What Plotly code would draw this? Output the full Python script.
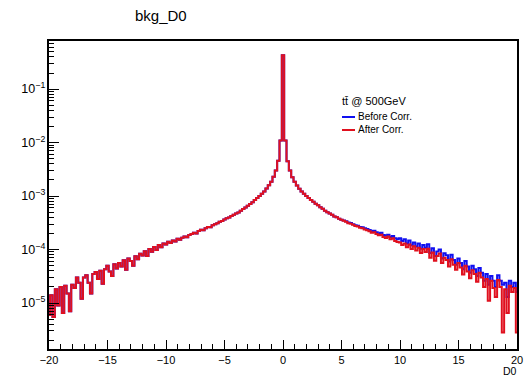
import numpy as np
import plotly.graph_objects as go

# Histogram: 201 bins of width 0.2 centred on -20.0 ... 20.0
bin_centers = np.round(np.arange(-100, 101) * 0.2, 1)

# "After Corr." bin contents
after_corr = [
    6e-6, 1.4e-5, 5.5e-6, 1.8e-5, 9e-6,
    2.0e-5, 6.5e-6, 2.1e-5, 1.5e-5, 7e-6,
    2.2e-5, 1.9e-5, 3.0e-5, 2.4e-5, 1.2e-5,
    3.0e-5, 3.3e-5, 2.4e-5, 1.5e-5, 3.5e-5,
    3.8e-5, 2.8e-5, 4.0e-5, 2.3e-5, 4.3e-5,
    5.0e-5, 3.9e-5, 3.2e-5, 5.3e-5, 4.4e-5,
    5.6e-5, 4.8e-5, 6.3e-5, 4.2e-5, 6.8e-5,
    6.1e-5, 5.0e-5, 7.5e-5, 6.6e-5, 8.3e-5,
    7.7e-5, 9.3e-5, 7.6e-5, 1.02e-4, 9.1e-5,
    1.12e-4, 9.8e-5, 1.22e-4, 1.1e-4, 1.3e-4,
    1.24e-4, 1.4e-4, 1.32e-4, 1.48e-4, 1.41e-4,
    1.6e-4, 1.52e-4, 1.67e-4, 1.75e-4, 1.7e-4,
    1.88e-4, 1.95e-4, 2.07e-4, 2.0e-4, 2.22e-4,
    2.35e-4, 2.3e-4, 2.5e-4, 2.65e-4, 2.62e-4,
    2.85e-4, 2.98e-4, 3.1e-4, 3.3e-4, 3.42e-4,
    3.65e-4, 3.85e-4, 3.98e-4, 4.25e-4, 4.45e-4,
    4.7e-4, 4.95e-4, 5.3e-4, 5.7e-4, 6.1e-4,
    6.6e-4, 7.1e-4, 7.7e-4, 8.4e-4, 9.2e-4,
    1.0e-3, 1.1e-3, 1.22e-3, 1.38e-3, 1.6e-3,
    1.85e-3, 2.3e-3, 3.0e-3, 4.6e-3, 1.1e-2,
    0.43,
    1.1e-2, 4.5e-3, 3.0e-3, 2.25e-3, 1.85e-3,
    1.58e-3, 1.37e-3, 1.22e-3, 1.1e-3, 1.0e-3,
    9.2e-4, 8.4e-4, 7.8e-4, 7.2e-4, 6.7e-4,
    6.2e-4, 5.8e-4, 5.3e-4, 5.0e-4, 4.7e-4,
    4.45e-4, 4.15e-4, 4.0e-4, 3.75e-4, 3.6e-4,
    3.45e-4, 3.3e-4, 3.1e-4, 3.05e-4, 2.9e-4,
    2.75e-4, 2.7e-4, 2.55e-4, 2.5e-4, 2.38e-4,
    2.3e-4, 2.2e-4, 2.05e-4, 2.1e-4, 1.95e-4,
    1.85e-4, 1.9e-4, 1.72e-4, 1.65e-4, 1.75e-4,
    1.55e-4, 1.62e-4, 1.45e-4, 1.38e-4, 1.35e-4,
    1.22e-4, 1.3e-4, 1.1e-4, 1.24e-4, 1.02e-4,
    1.15e-4, 9.6e-5, 1.08e-4, 8.6e-5, 1.02e-4,
    9.0e-5, 1.04e-4, 7.0e-5, 8.8e-5, 6.2e-5,
    7.6e-5, 8.4e-5, 5.6e-5, 7.0e-5, 6.4e-5,
    4.8e-5, 6.6e-5, 5.2e-5, 4.2e-5, 5.6e-5,
    4.6e-5, 3.4e-5, 5.0e-5, 3.9e-5, 2.9e-5,
    4.1e-5, 3.5e-5, 2.5e-5, 3.7e-5, 3.0e-5,
    2.0e-5, 2.8e-5, 1.1e-5, 2.6e-5, 1.9e-5,
    1.3e-5, 2.7e-5, 2.0e-5, 2.8e-6, 1.8e-5,
    6.5e-6, 2.1e-5, 1.6e-5, 1.9e-5, 2.8e-6,
]

# "Before Corr." differs only for D0 >= 5.2 (bins 126..200)
before_corr_right = [
    3.5e-4, 3.38e-4, 3.2e-4, 3.12e-4, 2.98e-4,
    2.85e-4, 2.8e-4, 2.65e-4, 2.6e-4, 2.5e-4,
    2.42e-4, 2.33e-4, 2.2e-4, 2.25e-4, 2.1e-4,
    2.0e-4, 2.05e-4, 1.88e-4, 1.82e-4, 1.9e-4,
    1.72e-4, 1.8e-4, 1.62e-4, 1.56e-4, 1.62e-4,
    1.45e-4, 1.55e-4, 1.3e-4, 1.48e-4, 1.2e-4,
    1.36e-4, 1.14e-4, 1.3e-4, 1.04e-4, 1.22e-4,
    1.08e-4, 1.25e-4, 8.6e-5, 1.06e-4, 7.6e-5,
    9.2e-5, 1.0e-4, 6.8e-5, 8.5e-5, 7.8e-5,
    6.0e-5, 8.0e-5, 6.4e-5, 5.2e-5, 6.8e-5,
    5.6e-5, 4.3e-5, 6.1e-5, 4.8e-5, 3.7e-5,
    5.0e-5, 4.3e-5, 3.2e-5, 4.5e-5, 3.7e-5,
    2.6e-5, 3.5e-5, 2.2e-5, 3.2e-5, 2.6e-5,
    2.0e-5, 3.3e-5, 2.6e-5, 2.2e-5, 2.4e-5,
    1.3e-5, 2.6e-5, 2.0e-5, 2.4e-5, 1.6e-5,
]
before_corr = after_corr[:126] + before_corr_right

x_ticks = [-20, -15, -10, -5, 0, 5, 10, 15, 20]
series_names = ["Before Corr.", "After Corr."]
legend_header = "tt\u0304 @ 500GeV"
hist_title = "bkg_D0"
x_title = "D0"

BLUE = "#1010f0"
RED = "#e0101e"
FONT = "Liberation Sans, Arial, Helvetica, sans-serif"

# page body has an 8px default margin; compensate so the frame lands at
# x 49..517, y 41..349 of the 532x378 window
OFF = 8
W, H = 532 - OFF, 378 - OFF
L, R, T, B = 49 - OFF, 532 - 517, 41 - OFF, 378 - 349

fig = go.Figure()
fig.add_trace(go.Scatter(x=bin_centers, y=before_corr, mode="lines",
                         line=dict(color=BLUE, width=2, shape="hvh"),
                         name=series_names[0], showlegend=False))
fig.add_trace(go.Scatter(x=bin_centers, y=after_corr, mode="lines",
                         line=dict(color=RED, width=2, shape="hvh"),
                         name=series_names[1], showlegend=False))

fig.update_layout(
    width=W, height=H,
    margin=dict(l=L, r=R, t=T, b=B, autoexpand=False),
    paper_bgcolor="white", plot_bgcolor="white",
    font=dict(family=FONT, color="black", size=11),
)
fig.update_xaxes(
    range=[-20, 20], tickvals=x_ticks, ticktext=[str(v).replace("-", "\u2212") for v in x_ticks],
    ticks="inside", ticklen=9, tickwidth=1, tickcolor="black",
    minor=dict(ticks="inside", ticklen=5, dtick=1, tickcolor="black", showgrid=False),
    showline=True, linecolor="black", linewidth=1.5, mirror=True,
    showgrid=False, zeroline=False, tickfont=dict(size=11), automargin=False,
)
fig.update_yaxes(
    type="log", range=[-5.86, -0.10], dtick=1, exponentformat="power",
    ticks="inside", ticklen=10, tickwidth=1, tickcolor="black",
    minor=dict(ticks="inside", ticklen=5, dtick="D1", tickcolor="black", showgrid=False),
    showline=True, linecolor="black", linewidth=1.5, mirror=True,
    showgrid=False, zeroline=False, tickfont=dict(size=10), automargin=False,
)

PW, PH = 532 - 49 - 15, 349 - 41

def px_x(p):
    return (p - 49) / PW

def px_y(p):
    return (349 - p) / PH

fig.add_annotation(text=hist_title, xref="paper", yref="paper",
                   x=px_x(161), y=px_y(16), showarrow=False, borderpad=0,
                   xanchor="center", yanchor="middle", font=dict(size=15))
fig.add_annotation(text=x_title, xref="paper", yref="paper",
                   x=px_x(518), y=px_y(371), showarrow=False, borderpad=0,
                   xanchor="right", yanchor="middle", font=dict(size=10.5))
fig.add_annotation(text=legend_header, xref="paper", yref="paper",
                   x=px_x(340), y=px_y(101), showarrow=False,
                   xanchor="left", yanchor="middle", font=dict(size=11))
for name, col, py in [(series_names[0], BLUE, 117), (series_names[1], RED, 130)]:
    fig.add_annotation(text=name, xref="paper", yref="paper",
                       x=px_x(356), y=px_y(py - 1), showarrow=False,
                       xanchor="left", yanchor="middle", font=dict(size=10))
    fig.add_shape(type="line", xref="paper", yref="paper",
                  x0=px_x(342), x1=px_x(355), y0=px_y(py), y1=px_y(py),
                  line=dict(color=col, width=2))

fig.write_html("out.html")
